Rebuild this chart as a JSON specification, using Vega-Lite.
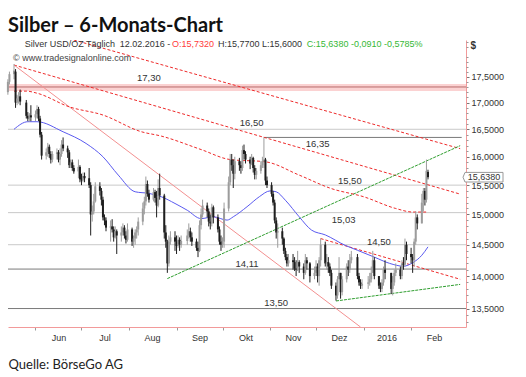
{
  "$schema": "https://vega.github.io/schema/vega-lite/v6.json",
  "width": 458,
  "height": 287,
  "autosize": {"type": "none"},
  "padding": {"left": 8, "top": 40, "right": 60, "bottom": 50},
  "background": "white",
  "config": {"view": {"stroke": null}, "font": "Liberation Sans"},
  "title": {"text": "Silber – 6-Monats-Chart", "anchor": "start", "frame": "group", "font": "Lato", "fontSize": 20, "fontWeight": "bold", "color": "#111111", "baseline": "alphabetic", "offset": 10, "dy": 22},
  "datasets": {
    "ohlc": [
      {"d":"2015-05-14","o":17.2,"h":17.45,"l":17.15,"c":17.4},
      {"d":"2015-05-15","o":17.4,"h":17.6,"l":17.35,"c":17.55},
      {"d":"2015-05-18","o":17.55,"h":17.75,"l":17.45,"c":17.62},
      {"d":"2015-05-19","o":17.6,"h":17.65,"l":16.9,"c":17.0},
      {"d":"2015-05-20","o":17.0,"h":17.15,"l":16.95,"c":17.08},
      {"d":"2015-05-21","o":17.08,"h":17.2,"l":16.98,"c":17.12},
      {"d":"2015-05-22","o":17.12,"h":17.25,"l":16.95,"c":17.02},
      {"d":"2015-05-26","o":17.0,"h":17.05,"l":16.7,"c":16.75},
      {"d":"2015-05-27","o":16.75,"h":16.82,"l":16.65,"c":16.7},
      {"d":"2015-05-28","o":16.7,"h":16.8,"l":16.64,"c":16.76},
      {"d":"2015-05-29","o":16.76,"h":16.95,"l":16.65,"c":16.72},
      {"d":"2015-06-01","o":16.72,"h":16.85,"l":16.65,"c":16.78},
      {"d":"2015-06-02","o":16.78,"h":16.95,"l":16.7,"c":16.88},
      {"d":"2015-06-03","o":16.88,"h":16.92,"l":16.65,"c":16.7},
      {"d":"2015-06-04","o":16.7,"h":16.75,"l":16.35,"c":16.4},
      {"d":"2015-06-05","o":16.4,"h":16.45,"l":15.95,"c":16.02},
      {"d":"2015-06-08","o":16.02,"h":16.15,"l":15.95,"c":16.08},
      {"d":"2015-06-09","o":16.08,"h":16.25,"l":16.0,"c":16.18},
      {"d":"2015-06-10","o":16.18,"h":16.22,"l":15.98,"c":16.05},
      {"d":"2015-06-11","o":16.05,"h":16.1,"l":15.88,"c":15.95},
      {"d":"2015-06-12","o":15.95,"h":16.1,"l":15.9,"c":16.05},
      {"d":"2015-06-15","o":16.05,"h":16.15,"l":15.95,"c":16.08},
      {"d":"2015-06-16","o":16.08,"h":16.12,"l":15.9,"c":15.95},
      {"d":"2015-06-17","o":15.95,"h":16.15,"l":15.85,"c":16.05},
      {"d":"2015-06-18","o":16.05,"h":16.3,"l":16.0,"c":16.22},
      {"d":"2015-06-19","o":16.22,"h":16.35,"l":16.1,"c":16.15},
      {"d":"2015-06-22","o":16.15,"h":16.2,"l":15.98,"c":16.08},
      {"d":"2015-06-23","o":16.08,"h":16.12,"l":15.8,"c":15.85},
      {"d":"2015-06-24","o":15.85,"h":15.95,"l":15.8,"c":15.9},
      {"d":"2015-06-25","o":15.9,"h":15.95,"l":15.75,"c":15.8},
      {"d":"2015-06-26","o":15.8,"h":15.85,"l":15.7,"c":15.74},
      {"d":"2015-06-29","o":15.74,"h":15.95,"l":15.62,"c":15.82},
      {"d":"2015-06-30","o":15.82,"h":15.85,"l":15.55,"c":15.6},
      {"d":"2015-07-01","o":15.6,"h":15.7,"l":15.5,"c":15.58},
      {"d":"2015-07-02","o":15.58,"h":15.72,"l":15.55,"c":15.66},
      {"d":"2015-07-03","o":15.66,"h":15.72,"l":15.55,"c":15.62},
      {"d":"2015-07-06","o":15.62,"h":15.8,"l":15.45,"c":15.5},
      {"d":"2015-07-07","o":15.5,"h":15.55,"l":14.65,"c":15.0},
      {"d":"2015-07-08","o":15.0,"h":15.15,"l":14.88,"c":15.05},
      {"d":"2015-07-09","o":15.05,"h":15.35,"l":15.0,"c":15.22},
      {"d":"2015-07-10","o":15.22,"h":15.55,"l":15.2,"c":15.48},
      {"d":"2015-07-13","o":15.48,"h":15.55,"l":15.32,"c":15.4},
      {"d":"2015-07-14","o":15.4,"h":15.45,"l":15.15,"c":15.25},
      {"d":"2015-07-15","o":15.25,"h":15.3,"l":14.9,"c":14.95},
      {"d":"2015-07-16","o":14.95,"h":15.0,"l":14.82,"c":14.9},
      {"d":"2015-07-17","o":14.9,"h":14.95,"l":14.72,"c":14.78},
      {"d":"2015-07-20","o":14.78,"h":14.9,"l":14.55,"c":14.8},
      {"d":"2015-07-21","o":14.8,"h":14.92,"l":14.7,"c":14.75},
      {"d":"2015-07-22","o":14.75,"h":14.8,"l":14.55,"c":14.62},
      {"d":"2015-07-23","o":14.62,"h":14.8,"l":14.6,"c":14.72},
      {"d":"2015-07-24","o":14.72,"h":14.75,"l":14.35,"c":14.65},
      {"d":"2015-07-27","o":14.65,"h":14.8,"l":14.55,"c":14.7},
      {"d":"2015-07-28","o":14.7,"h":14.85,"l":14.65,"c":14.78},
      {"d":"2015-07-29","o":14.78,"h":14.82,"l":14.6,"c":14.65},
      {"d":"2015-07-30","o":14.65,"h":14.72,"l":14.52,"c":14.58},
      {"d":"2015-07-31","o":14.58,"h":14.85,"l":14.55,"c":14.75},
      {"d":"2015-08-03","o":14.75,"h":14.78,"l":14.48,"c":14.55},
      {"d":"2015-08-04","o":14.55,"h":14.65,"l":14.45,"c":14.6},
      {"d":"2015-08-05","o":14.6,"h":14.75,"l":14.5,"c":14.7},
      {"d":"2015-08-06","o":14.7,"h":14.8,"l":14.6,"c":14.75},
      {"d":"2015-08-07","o":14.75,"h":14.95,"l":14.65,"c":14.88},
      {"d":"2015-08-10","o":14.88,"h":15.2,"l":14.82,"c":15.1},
      {"d":"2015-08-11","o":15.1,"h":15.3,"l":15.0,"c":15.22},
      {"d":"2015-08-12","o":15.22,"h":15.65,"l":15.15,"c":15.52},
      {"d":"2015-08-13","o":15.52,"h":15.58,"l":15.3,"c":15.35},
      {"d":"2015-08-14","o":15.35,"h":15.42,"l":15.2,"c":15.25},
      {"d":"2015-08-17","o":15.25,"h":15.45,"l":15.22,"c":15.38},
      {"d":"2015-08-18","o":15.38,"h":15.42,"l":15.2,"c":15.28},
      {"d":"2015-08-19","o":15.28,"h":15.4,"l":14.95,"c":15.15},
      {"d":"2015-08-20","o":15.15,"h":15.6,"l":15.12,"c":15.45},
      {"d":"2015-08-21","o":15.45,"h":15.7,"l":15.25,"c":15.32},
      {"d":"2015-08-24","o":15.32,"h":15.35,"l":14.6,"c":14.7},
      {"d":"2015-08-25","o":14.7,"h":14.82,"l":14.45,"c":14.55},
      {"d":"2015-08-26","o":14.55,"h":14.58,"l":14.05,"c":14.2},
      {"d":"2015-08-27","o":14.2,"h":14.65,"l":14.15,"c":14.55},
      {"d":"2015-08-28","o":14.55,"h":14.72,"l":14.5,"c":14.62},
      {"d":"2015-08-31","o":14.62,"h":14.72,"l":14.4,"c":14.55},
      {"d":"2015-09-01","o":14.55,"h":14.65,"l":14.35,"c":14.48},
      {"d":"2015-09-02","o":14.48,"h":14.65,"l":14.45,"c":14.58},
      {"d":"2015-09-03","o":14.58,"h":14.62,"l":14.4,"c":14.5},
      {"d":"2015-09-04","o":14.5,"h":14.65,"l":14.45,"c":14.56},
      {"d":"2015-09-08","o":14.56,"h":14.75,"l":14.5,"c":14.65},
      {"d":"2015-09-09","o":14.65,"h":14.85,"l":14.6,"c":14.72},
      {"d":"2015-09-10","o":14.72,"h":14.78,"l":14.55,"c":14.62},
      {"d":"2015-09-11","o":14.62,"h":14.7,"l":14.48,"c":14.55},
      {"d":"2015-09-14","o":14.55,"h":14.6,"l":14.4,"c":14.45},
      {"d":"2015-09-15","o":14.45,"h":14.55,"l":14.3,"c":14.4},
      {"d":"2015-09-16","o":14.4,"h":14.9,"l":14.38,"c":14.82},
      {"d":"2015-09-17","o":14.82,"h":15.1,"l":14.75,"c":15.0},
      {"d":"2015-09-18","o":15.0,"h":15.25,"l":14.95,"c":15.15},
      {"d":"2015-09-21","o":15.15,"h":15.2,"l":14.95,"c":15.05},
      {"d":"2015-09-22","o":15.05,"h":15.1,"l":14.8,"c":14.88},
      {"d":"2015-09-23","o":14.88,"h":15.0,"l":14.75,"c":14.85},
      {"d":"2015-09-24","o":14.85,"h":15.18,"l":14.8,"c":15.12},
      {"d":"2015-09-25","o":15.12,"h":15.15,"l":14.85,"c":14.95},
      {"d":"2015-09-28","o":14.95,"h":15.0,"l":14.7,"c":14.75},
      {"d":"2015-09-29","o":14.75,"h":14.8,"l":14.5,"c":14.55},
      {"d":"2015-09-30","o":14.55,"h":14.65,"l":14.4,"c":14.5},
      {"d":"2015-10-01","o":14.5,"h":14.62,"l":14.45,"c":14.55},
      {"d":"2015-10-02","o":14.55,"h":15.2,"l":14.45,"c":15.1},
      {"d":"2015-10-05","o":15.1,"h":15.65,"l":15.05,"c":15.55},
      {"d":"2015-10-06","o":15.55,"h":16.05,"l":15.5,"c":15.95},
      {"d":"2015-10-07","o":15.95,"h":16.05,"l":15.75,"c":15.85},
      {"d":"2015-10-08","o":15.85,"h":15.95,"l":15.45,"c":15.7},
      {"d":"2015-10-09","o":15.7,"h":16.0,"l":15.6,"c":15.92},
      {"d":"2015-10-12","o":15.92,"h":15.98,"l":15.75,"c":15.85},
      {"d":"2015-10-13","o":15.85,"h":15.92,"l":15.7,"c":15.8},
      {"d":"2015-10-14","o":15.8,"h":16.2,"l":15.75,"c":16.12},
      {"d":"2015-10-15","o":16.12,"h":16.22,"l":15.95,"c":16.05},
      {"d":"2015-10-16","o":16.05,"h":16.1,"l":15.88,"c":15.95},
      {"d":"2015-10-19","o":15.95,"h":16.0,"l":15.78,"c":15.88},
      {"d":"2015-10-20","o":15.88,"h":16.05,"l":15.85,"c":15.98},
      {"d":"2015-10-21","o":15.98,"h":16.0,"l":15.72,"c":15.8},
      {"d":"2015-10-22","o":15.8,"h":15.85,"l":15.6,"c":15.68},
      {"d":"2015-10-23","o":15.68,"h":15.8,"l":15.6,"c":15.75},
      {"d":"2015-10-26","o":15.75,"h":15.92,"l":15.7,"c":15.85},
      {"d":"2015-10-27","o":15.85,"h":16.0,"l":15.8,"c":15.92},
      {"d":"2015-10-28","o":15.92,"h":16.35,"l":15.8,"c":15.95},
      {"d":"2015-10-29","o":15.95,"h":15.98,"l":15.5,"c":15.58},
      {"d":"2015-10-30","o":15.58,"h":15.65,"l":15.45,"c":15.5},
      {"d":"2015-11-02","o":15.5,"h":15.55,"l":15.3,"c":15.35},
      {"d":"2015-11-03","o":15.35,"h":15.4,"l":15.15,"c":15.2},
      {"d":"2015-11-04","o":15.2,"h":15.25,"l":14.85,"c":14.9},
      {"d":"2015-11-05","o":14.9,"h":14.95,"l":14.6,"c":14.7},
      {"d":"2015-11-06","o":14.7,"h":14.85,"l":14.45,"c":14.72},
      {"d":"2015-11-09","o":14.72,"h":14.78,"l":14.5,"c":14.6},
      {"d":"2015-11-10","o":14.6,"h":14.62,"l":14.35,"c":14.4},
      {"d":"2015-11-11","o":14.4,"h":14.45,"l":14.25,"c":14.3},
      {"d":"2015-11-12","o":14.3,"h":14.35,"l":14.15,"c":14.2},
      {"d":"2015-11-13","o":14.2,"h":14.35,"l":14.15,"c":14.25},
      {"d":"2015-11-16","o":14.25,"h":14.35,"l":14.1,"c":14.22},
      {"d":"2015-11-17","o":14.22,"h":14.3,"l":14.08,"c":14.12},
      {"d":"2015-11-18","o":14.12,"h":14.25,"l":14.0,"c":14.1},
      {"d":"2015-11-19","o":14.1,"h":14.4,"l":14.08,"c":14.22},
      {"d":"2015-11-20","o":14.22,"h":14.25,"l":14.05,"c":14.15},
      {"d":"2015-11-23","o":14.15,"h":14.2,"l":13.95,"c":14.05},
      {"d":"2015-11-24","o":14.05,"h":14.35,"l":14.02,"c":14.25},
      {"d":"2015-11-25","o":14.25,"h":14.3,"l":14.1,"c":14.2},
      {"d":"2015-11-27","o":14.2,"h":14.22,"l":13.9,"c":14.0},
      {"d":"2015-11-30","o":14.0,"h":14.15,"l":13.95,"c":14.05},
      {"d":"2015-12-01","o":14.05,"h":14.25,"l":14.0,"c":14.15},
      {"d":"2015-12-02","o":14.15,"h":14.2,"l":13.9,"c":14.0},
      {"d":"2015-12-03","o":14.0,"h":14.3,"l":13.85,"c":14.25},
      {"d":"2015-12-04","o":14.25,"h":14.6,"l":14.15,"c":14.5},
      {"d":"2015-12-07","o":14.5,"h":14.55,"l":14.15,"c":14.2},
      {"d":"2015-12-08","o":14.2,"h":14.35,"l":14.1,"c":14.22},
      {"d":"2015-12-09","o":14.22,"h":14.3,"l":14.05,"c":14.15},
      {"d":"2015-12-10","o":14.15,"h":14.2,"l":14.0,"c":14.05},
      {"d":"2015-12-11","o":14.05,"h":14.1,"l":13.8,"c":13.85},
      {"d":"2015-12-14","o":13.85,"h":13.9,"l":13.62,"c":13.7},
      {"d":"2015-12-15","o":13.7,"h":14.0,"l":13.65,"c":13.95},
      {"d":"2015-12-16","o":13.95,"h":14.3,"l":13.95,"c":14.05},
      {"d":"2015-12-17","o":14.05,"h":14.05,"l":13.65,"c":13.75},
      {"d":"2015-12-18","o":13.75,"h":14.0,"l":13.7,"c":13.95},
      {"d":"2015-12-21","o":13.95,"h":14.2,"l":13.9,"c":14.15},
      {"d":"2015-12-22","o":14.15,"h":14.25,"l":14.0,"c":14.1},
      {"d":"2015-12-23","o":14.1,"h":14.35,"l":14.05,"c":14.25},
      {"d":"2015-12-24","o":14.25,"h":14.4,"l":14.2,"c":14.3},
      {"d":"2015-12-28","o":14.3,"h":14.35,"l":13.95,"c":14.0},
      {"d":"2015-12-29","o":14.0,"h":14.05,"l":13.85,"c":13.9},
      {"d":"2015-12-30","o":13.9,"h":13.95,"l":13.8,"c":13.85},
      {"d":"2015-12-31","o":13.85,"h":13.95,"l":13.8,"c":13.88},
      {"d":"2016-01-04","o":13.88,"h":14.0,"l":13.8,"c":13.9},
      {"d":"2016-01-05","o":13.9,"h":14.05,"l":13.85,"c":13.95},
      {"d":"2016-01-06","o":13.95,"h":14.15,"l":13.9,"c":14.05},
      {"d":"2016-01-07","o":14.05,"h":14.4,"l":14.05,"c":14.25},
      {"d":"2016-01-08","o":14.25,"h":14.3,"l":13.95,"c":14.0},
      {"d":"2016-01-11","o":14.0,"h":14.0,"l":13.8,"c":13.85},
      {"d":"2016-01-12","o":13.85,"h":13.9,"l":13.75,"c":13.8},
      {"d":"2016-01-13","o":13.8,"h":13.95,"l":13.75,"c":13.9},
      {"d":"2016-01-14","o":13.9,"h":14.15,"l":13.85,"c":14.1},
      {"d":"2016-01-15","o":14.1,"h":14.25,"l":13.95,"c":14.05},
      {"d":"2016-01-19","o":14.05,"h":14.05,"l":13.72,"c":13.8},
      {"d":"2016-01-20","o":13.8,"h":14.0,"l":13.7,"c":13.9},
      {"d":"2016-01-21","o":13.9,"h":14.1,"l":13.85,"c":14.05},
      {"d":"2016-01-22","o":14.05,"h":14.2,"l":14.0,"c":14.1},
      {"d":"2016-01-25","o":14.1,"h":14.15,"l":13.95,"c":14.0},
      {"d":"2016-01-26","o":14.0,"h":14.25,"l":13.95,"c":14.2},
      {"d":"2016-01-27","o":14.2,"h":14.3,"l":14.1,"c":14.18},
      {"d":"2016-01-28","o":14.18,"h":14.6,"l":14.15,"c":14.5},
      {"d":"2016-01-29","o":14.5,"h":14.55,"l":14.25,"c":14.35},
      {"d":"2016-02-01","o":14.35,"h":14.45,"l":14.2,"c":14.3},
      {"d":"2016-02-02","o":14.3,"h":14.35,"l":14.05,"c":14.25},
      {"d":"2016-02-03","o":14.25,"h":14.6,"l":14.15,"c":14.55},
      {"d":"2016-02-04","o":14.55,"h":15.05,"l":14.5,"c":14.95},
      {"d":"2016-02-05","o":14.95,"h":15.0,"l":14.75,"c":14.85},
      {"d":"2016-02-08","o":14.85,"h":15.35,"l":14.85,"c":15.2},
      {"d":"2016-02-09","o":15.2,"h":15.45,"l":15.05,"c":15.4},
      {"d":"2016-02-10","o":15.4,"h":15.45,"l":15.15,"c":15.25},
      {"d":"2016-02-11","o":15.25,"h":15.95,"l":15.2,"c":15.75},
      {"d":"2016-02-12","o":15.732,"h":15.77,"l":15.6,"c":15.638}
    ],
    "ma": [
      {"d":"2015-05-18","v":16.5},{"d":"2015-05-27","v":16.64},{"d":"2015-06-02","v":16.64},
      {"d":"2015-06-19","v":16.454},{"d":"2015-07-04","v":16.24},{"d":"2015-07-15","v":16.0},
      {"d":"2015-07-25","v":15.675},{"d":"2015-08-05","v":15.385},{"d":"2015-08-14","v":15.357},
      {"d":"2015-08-22","v":15.3},{"d":"2015-08-31","v":15.185},{"d":"2015-09-08","v":15.07},
      {"d":"2015-09-17","v":14.93},{"d":"2015-09-25","v":14.96},{"d":"2015-10-04","v":14.905},
      {"d":"2015-10-08","v":14.96},{"d":"2015-10-17","v":15.13},{"d":"2015-10-25","v":15.3},
      {"d":"2015-11-01","v":15.4},{"d":"2015-11-05","v":15.385},{"d":"2015-11-11","v":15.24},
      {"d":"2015-11-20","v":14.96},{"d":"2015-11-28","v":14.74},{"d":"2015-12-07","v":14.66},
      {"d":"2015-12-20","v":14.49},{"d":"2015-12-28","v":14.41},{"d":"2016-01-08","v":14.3},
      {"d":"2016-01-18","v":14.2},{"d":"2016-01-27","v":14.155},{"d":"2016-02-02","v":14.21},
      {"d":"2016-02-08","v":14.33},{"d":"2016-02-12","v":14.465}
    ],
    "rc": [
      {"d":"2015-05-18","v":17.22},{"d":"2015-05-26","v":17.22},{"d":"2015-06-02","v":17.18},
      {"d":"2015-06-23","v":16.92},{"d":"2015-07-15","v":16.765},{"d":"2015-08-09","v":16.455},
      {"d":"2015-08-22","v":16.375},{"d":"2015-09-17","v":16.13},{"d":"2015-10-06","v":15.95},
      {"d":"2015-10-29","v":15.91},{"d":"2015-11-20","v":15.675},{"d":"2015-12-11","v":15.44},
      {"d":"2016-01-01","v":15.3},{"d":"2016-01-22","v":15.1},{"d":"2016-02-02","v":15.04},
      {"d":"2016-02-12","v":15.04}
    ],
    "tl": [
      {"id":"A","s":"red","d":"2015-06-26","v":18.234},{"id":"A","s":"red","d":"2016-03-04","v":16.146},
      {"id":"B","s":"red","d":"2015-05-18","v":17.73},{"id":"B","s":"red","d":"2016-03-04","v":15.345},
      {"id":"E","s":"red","d":"2015-12-04","v":14.6},{"id":"E","s":"red","d":"2016-03-04","v":13.95},
      {"id":"C","s":"pink","d":"2015-05-18","v":17.73},{"id":"C","s":"pink","d":"2015-12-30","v":13.224},
      {"id":"G1","s":"green","d":"2015-08-26","v":13.96},{"id":"G1","s":"green","d":"2016-03-04","v":16.2},
      {"id":"G2","s":"green","d":"2015-12-14","v":13.615},{"id":"G2","s":"green","d":"2016-03-04","v":13.87}
    ],
    "levels": [
      {"v":17.3,"k":"red"},{"v":16.5,"k":"light"},{"v":15.5,"k":"light"},{"v":15.03,"k":"light"},
      {"v":14.5,"k":"light"},{"v":14.11,"k":"dark"},{"v":13.5,"k":"dark"}
    ],
    "lab": [
      {"t":"17,30","d":"2015-08-14","v":17.47},
      {"t":"16,50","d":"2015-10-20","v":16.615},
      {"t":"16,35","d":"2015-12-02","v":16.228},
      {"t":"15,50","d":"2015-12-23","v":15.568},
      {"t":"15,03","d":"2015-12-19","v":14.905},
      {"t":"14,50","d":"2016-01-11","v":14.542},
      {"t":"14,11","d":"2015-10-17","v":14.188},
      {"t":"13,50","d":"2015-11-05","v":13.581}
    ],
    "hdr": [
      {"t":"Silver USD/OZ Täglich","d":"2015-05-25","k":"n"},
      {"t":"12.02.2016 -","d":"2015-07-26","k":"n"},
      {"t":"O:15,7320","d":"2015-08-29","k":"r"},
      {"t":"H:15,7700 L:15,6000","d":"2015-09-28","k":"n"},
      {"t":"C:15,6380 -0,0910 -0,5785%","d":"2015-11-25","k":"g"}
    ]
  },
  "resolve": {"scale": {"y": "independent"}, "axis": {"y": "independent"}},
  "layer": [
    {
      "layer": [
        {
          "data": {"values": [{"lo": 17.22, "hi": 17.36}]},
          "mark": {"type": "rect", "color": "#fbd2d2"},
          "encoding": {
            "y": {"field": "lo", "type": "quantitative",
              "scale": {"type": "log", "domain": [13.224, 18.234], "nice": false, "zero": false},
              "axis": {"orient": "right", "values": [13.5,14,14.5,15,15.5,16,16.5,17,17.5],
                "labelExpr": "replace(format(datum.value, '.4f'), '.', ',')",
                "labelFontSize": 9, "labelColor": "#333333", "labelPadding": 2, "labelFont": "Liberation Sans",
                "tickSize": 3, "tickColor": "#777777", "domainColor": "#f29a9a", "grid": false,
                "title": "$", "titleAngle": 0, "titleX": 4, "titleY": 5, "titleAlign": "left", "titleBaseline": "middle",
                "titleFontSize": 10, "titleFontWeight": "bold", "titleColor": "#333333", "titleFont": "Liberation Sans"}},
            "y2": {"field": "hi"}
          }
        },
        {
          "data": {"name": "levels"},
          "mark": {"type": "rule", "strokeWidth": 1},
          "encoding": {
            "y": {"field": "v", "type": "quantitative"},
            "color": {"condition": [{"test": "datum.k == 'red'", "value": "#b86a6a"}, {"test": "datum.k == 'light'", "value": "#c9c9c9"}], "value": "#7a7a7a"}
          }
        },
        {
          "data": {"values": [{"d": "2015-10-28", "v": 16.35}]},
          "mark": {"type": "rule", "color": "#7a7a7a", "strokeWidth": 1},
          "encoding": {
            "x": {"field": "d", "type": "temporal"},
            "x2": {"datum": {"year": 2016, "month": 3, "date": 5}},
            "y": {"field": "v", "type": "quantitative"}
          }
        },
        {
          "data": {"name": "tl"},
          "transform": [{"filter": "datum.s == 'red'"}],
          "mark": {"type": "line", "color": "#ee2a2a", "strokeWidth": 1, "strokeDash": [3, 2], "clip": true},
          "encoding": {
            "x": {"field": "d", "type": "temporal"},
            "y": {"field": "v", "type": "quantitative"},
            "detail": {"field": "id"}
          }
        },
        {
          "data": {"name": "tl"},
          "transform": [{"filter": "datum.s == 'pink'"}],
          "mark": {"type": "line", "color": "#f39090", "strokeWidth": 1, "clip": true},
          "encoding": {
            "x": {"field": "d", "type": "temporal"},
            "y": {"field": "v", "type": "quantitative"},
            "detail": {"field": "id"}
          }
        },
        {
          "data": {"name": "tl"},
          "transform": [{"filter": "datum.s == 'green'"}],
          "mark": {"type": "line", "color": "#2f9e2f", "strokeWidth": 1, "strokeDash": [3, 1], "clip": true},
          "encoding": {
            "x": {"field": "d", "type": "temporal"},
            "y": {"field": "v", "type": "quantitative"},
            "detail": {"field": "id"}
          }
        },
        {
          "data": {"name": "rc"},
          "mark": {"type": "line", "color": "#ee2a2a", "strokeWidth": 1, "strokeDash": [3, 2], "interpolate": "monotone", "clip": true},
          "encoding": {
            "x": {"field": "d", "type": "temporal"},
            "y": {"field": "v", "type": "quantitative"}
          }
        },
        {
          "data": {"name": "ma"},
          "mark": {"type": "line", "color": "#5a5af0", "strokeWidth": 1, "interpolate": "monotone", "clip": true},
          "encoding": {
            "x": {"field": "d", "type": "temporal"},
            "y": {"field": "v", "type": "quantitative"}
          }
        },
        {
          "data": {"name": "ohlc"},
          "mark": {"type": "rule", "strokeWidth": 1},
          "encoding": {
            "x": {"field": "d", "type": "temporal",
              "scale": {"domain": [{"year": 2015, "month": 5, "date": 17, "hours": 8}, {"year": 2016, "month": 3, "date": 4, "hours": 13}], "nice": false},
              "axis": {"orient": "bottom",
                "values": [{"year": 2015, "month": 6, "date": 1}, {"year": 2015, "month": 7, "date": 1}, {"year": 2015, "month": 8, "date": 1},
                  {"year": 2015, "month": 9, "date": 1}, {"year": 2015, "month": 10, "date": 1}, {"year": 2015, "month": 11, "date": 1},
                  {"year": 2015, "month": 12, "date": 1}, {"year": 2016, "month": 1, "date": 1}, {"year": 2016, "month": 2, "date": 1}],
                "labelExpr": "month(datum.value) == 0 ? timeFormat(datum.value, '%Y') : ['Jan','Feb','Mär','Apr','Mai','Jun','Jul','Aug','Sep','Okt','Nov','Dez'][month(datum.value)]",
                "labelOffset": 23, "labelFlush": false, "labelOverlap": false, "labelFontSize": 9, "labelColor": "#333333",
                "labelFont": "Liberation Sans", "labelPadding": 3,
                "tickSize": 3, "tickColor": "#999999", "domainColor": "#f29a9a", "grid": false,
                "title": "Quelle: BörseGo AG", "titleX": 0, "titleY": 37, "titleAlign": "left", "titleBaseline": "middle",
                "titleFont": "Lato", "titleFontSize": 13, "titleFontWeight": "normal", "titleColor": "#222222"}},
            "y": {"field": "l", "type": "quantitative"},
            "y2": {"field": "h"},
            "color": {"condition": {"test": "datum.c >= datum.o", "value": "#9c9c9c"}, "value": "#1e1e1e"}
          }
        },
        {
          "data": {"name": "ohlc"},
          "mark": {"type": "bar", "size": 2},
          "encoding": {
            "x": {"field": "d", "type": "temporal"},
            "y": {"field": "o", "type": "quantitative"},
            "y2": {"field": "c"},
            "color": {"condition": {"test": "datum.c >= datum.o", "value": "#9c9c9c"}, "value": "#1e1e1e"}
          }
        },
        {
          "data": {"name": "lab"},
          "mark": {"type": "text", "fontSize": 9.5, "color": "#333333", "align": "center", "baseline": "middle"},
          "encoding": {
            "x": {"field": "d", "type": "temporal"},
            "y": {"field": "v", "type": "quantitative"},
            "text": {"field": "t"}
          }
        },
        {
          "data": {"name": "hdr"},
          "mark": {"type": "text", "fontSize": 9, "align": "left", "baseline": "middle"},
          "encoding": {
            "x": {"field": "d", "type": "temporal"},
            "y": {"datum": 18.155},
            "text": {"field": "t"},
            "color": {"condition": [{"test": "datum.k == 'r'", "value": "#ff3b3b"}, {"test": "datum.k == 'g'", "value": "#35b835"}], "value": "#333333"}
          }
        },
        {
          "data": {"values": [{"t": "© www.tradesignalonline.com"}]},
          "mark": {"type": "text", "fontSize": 9, "align": "left", "baseline": "middle", "color": "#444444"},
          "encoding": {
            "x": {"datum": {"year": 2015, "month": 5, "date": 17, "hours": 9}},
            "y": {"datum": 17.87},
            "text": {"field": "t"}
          }
        },
        {
          "data": {"values": [{"c": 15.638, "t": "15,6380"}]},
          "mark": {"type": "point", "shape": "M-1,0 L-0.9,-0.24 L1,-0.24 L1,0.24 L-0.9,0.24 Z", "size": 1600, "filled": true, "fill": "white", "stroke": "#999999", "strokeWidth": 1, "opacity": 1, "xOffset": 22},
          "encoding": {
            "x": {"datum": {"year": 2016, "month": 3, "date": 4, "hours": 13}},
            "y": {"field": "c", "type": "quantitative"}
          }
        },
        {
          "data": {"values": [{"c": 15.638, "t": "15,6380"}]},
          "mark": {"type": "text", "fontSize": 9, "align": "center", "baseline": "middle", "color": "#333333", "dx": 23},
          "encoding": {
            "x": {"datum": {"year": 2016, "month": 3, "date": 4, "hours": 13}},
            "y": {"field": "c", "type": "quantitative"},
            "text": {"field": "t"}
          }
        }
      ]
    },
    {
      "data": {"values": [{"v": 15}]},
      "mark": {"type": "point", "opacity": 0},
      "encoding": {
        "y": {"field": "v", "type": "quantitative",
          "scale": {"type": "log", "domain": [13.224, 18.234], "nice": false, "zero": false},
          "axis": {"orient": "right", "values": [13.3,13.4,13.6,13.7,13.8,13.9,14.1,14.2,14.3,14.4,14.6,14.7,14.8,14.9,15.1,15.2,15.3,15.4,15.6,15.7,15.8,15.9,16.1,16.2,16.3,16.4,16.6,16.7,16.8,16.9,17.1,17.2,17.3,17.4,17.6,17.7,17.8,17.9,18.1,18.2],
            "labels": false, "domain": false, "ticks": true, "tickSize": 2, "tickColor": "#999999", "grid": false, "title": null}}
      }
    }
  ]
}
